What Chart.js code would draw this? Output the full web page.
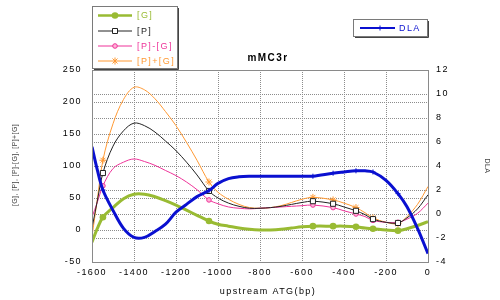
<!DOCTYPE html>
<html lang="en">
<head>
<meta charset="utf-8" />
<title>mMC3r</title>
<style>
html,body{margin:0;padding:0;background:#fff;}
#wrap{width:500px;height:300px;}
</style>
</head>
<body>
<div id="wrap"><canvas id="chart" width="500" height="300"></canvas></div>

<script src="https://cdn.jsdelivr.net/npm/chart.js@4.4.1"></script>
<script>
/* ─────────── values ─────────── */
const positions = [-1600,-1575,-1548,-1500,-1450,-1400,-1350,-1300,-1250,-1200,-1150,-1100,-1043,-1000,-950,-900,-850,-800,-750,-700,-650,-600,-548,-452,-400,-343,-300,-262,-200,-143,-100,-50,0];
const gVals    = [-19,2,20,35,49,56,56,52,46,39,31,23,14,9,6,3,1,0,0,1,3,5,6,6,6,5,3,2,0,-1,2,7,13];
const pVals    = [3,45,89,131,155,167,163,153,139,124,106,86,61,50,42,37,34,34,35,37,40,43,45,41,36,30,24,17,12,11,19,33,55];
const pMinusG  = [20,43,69,96,106,111,107,101,93,85,75,63,47,41,36,34,33,34,35,36,37,38,39,35,30,25,21,15,12,12,17,26,42];
const pPlusG   = [-10,47,109,166,204,223,219,205,185,163,137,109,75,59,48,40,35,34,35,38,43,48,51,47,42,35,27,19,12,10,21,40,68];
const dlaVals  = [5.6,3.7,2.0,0.3,-1.2,-1.95,-1.95,-1.45,-0.85,0.15,0.8,1.45,1.95,2.55,2.95,3.1,3.15,3.15,3.15,3.15,3.15,3.15,3.15,3.4,3.5,3.6,3.6,3.5,2.8,1.7,0.6,-1.2,-3.3];
const markerAt = [-1548,-1043,-548,-452,-343,-262,-143];

const xTicks   = {min:-1600,max:0,step:200};
const leftTicks  = {min:-50,max:250,step:50};
const rightTicks = {min:-4,max:12,step:2};

const titleText = 'mMC3r';
const xTitle = 'upstream ATG(bp)';
const leftTitle = '[G], [P], [P]-[G], [P]+[G]';
const rightTitle = 'DLA';

/* ─────────── styles ─────────── */
const GREEN='#99bb33', BLACK='#222222', PINK='#ee3399', ORANGE='#ff9933', BLUE='#0a10d0';
const FONT='"Liberation Sans", Arial, sans-serif';

const pts = vals => positions.map((x,i)=>({x, y:vals[i]}));
const radii = r => positions.map(x => markerAt.includes(x) ? r : 0);

const series = [
    {label:'DLA', data:pts(dlaVals), yAxisID:'yR', borderColor:BLUE, backgroundColor:BLUE,
     borderWidth:3, pointStyle:'cross', pointRadius:radii(2.5), pointBorderWidth:1},
    {label:'[P]', data:pts(pVals), yAxisID:'yL', borderColor:BLACK, backgroundColor:'#fff',
     borderWidth:1, pointStyle:'rect', pointRadius:radii(3.6), pointBorderWidth:1},
    {label:'[P]-[G]', data:pts(pMinusG), yAxisID:'yL', borderColor:PINK, backgroundColor:'#ffb3d6',
     borderWidth:1, pointStyle:'circle', pointRadius:radii(2.3), pointBorderWidth:1},
    {label:'[P]+[G]', data:pts(pPlusG), yAxisID:'yL', borderColor:ORANGE, backgroundColor:ORANGE,
     borderWidth:1, pointStyle:'star', pointRadius:radii(3.5), pointBorderWidth:1},
    {label:'[G]', data:pts(gVals), yAxisID:'yL', borderColor:GREEN, backgroundColor:GREEN,
     borderWidth:3, pointStyle:'circle', pointRadius:radii(3.3), pointBorderWidth:0}
];

/* ─────────── frame, legends, titles ─────────── */
function legendMarker(ctx, kind, color, fill, x, y){
    ctx.save();
    ctx.strokeStyle=color; ctx.fillStyle=fill; ctx.lineWidth=1;
    ctx.beginPath();
    if (kind==='dot'){ ctx.arc(x,y,3.3,0,Math.PI*2); ctx.fillStyle=color; ctx.fill(); }
    else if (kind==='rect'){ ctx.rect(x-2.5,y-2.5,5,5); ctx.fill(); ctx.stroke(); }
    else if (kind==='circle'){ ctx.arc(x,y,2.3,0,Math.PI*2); ctx.fill(); ctx.stroke(); }
    else if (kind==='star'){
        ctx.moveTo(x-2.5,y-2.5); ctx.lineTo(x+2.5,y+2.5);
        ctx.moveTo(x-2.5,y+2.5); ctx.lineTo(x+2.5,y-2.5);
        ctx.moveTo(x,y-3.5); ctx.lineTo(x,y+3.5); ctx.stroke();
    } else if (kind==='plus'){
        ctx.moveTo(x,y-2.5); ctx.lineTo(x,y+2.5); ctx.stroke();
    }
    ctx.restore();
}

function box(ctx, x, y, w, h){
    ctx.fillStyle='#fff';
    ctx.fillRect(x,y,w,h);
    ctx.strokeStyle='#7a7a7a'; ctx.lineWidth=1;
    ctx.strokeRect(x+0.5,y+0.5,w,h);
    ctx.strokeStyle='#444';
    ctx.beginPath();
    ctx.moveTo(x+w+1.5,y+2); ctx.lineTo(x+w+1.5,y+h+1.5); ctx.lineTo(x+2,y+h+1.5);
    ctx.stroke();
}

const decor = {
    id:'decor',
    beforeDraw(chart){ chart.ctx.letterSpacing='1.4px'; },
    afterDraw(chart){
        const {ctx, chartArea:a} = chart;
        ctx.save();
        ctx.letterSpacing='1.4px';

        // plot frame
        ctx.strokeStyle='#8a8a8a'; ctx.lineWidth=1;
        ctx.strokeRect(Math.round(a.left)+0.5, Math.round(a.top)+0.5,
                       Math.round(a.right-a.left), Math.round(a.bottom-a.top));

        // chart title
        ctx.fillStyle='#000'; ctx.font='bold 10px '+FONT;
        ctx.textAlign='center'; ctx.textBaseline='middle';
        ctx.fillText(titleText, 268, 58);

        // x axis title
        ctx.font='9px '+FONT;
        ctx.fillText(xTitle, 268, 292);

        // y axis titles
        ctx.fillStyle='#444'; ctx.font='7px '+FONT; ctx.letterSpacing='0.4px';
        ctx.save(); ctx.translate(15,165); ctx.rotate(-Math.PI/2);
        ctx.fillText(leftTitle,0,0); ctx.restore();
        ctx.save(); ctx.translate(487,166); ctx.rotate(Math.PI/2);
        ctx.fillText(rightTitle,0,0); ctx.restore();

        // left legend
        ctx.letterSpacing='1.4px';
        box(ctx, 92, 6, 85, 62);
        const rows = [
            {t:'[G]', c:GREEN, f:GREEN, w:2.5, m:'dot', y:15.5},
            {t:'[P]', c:BLACK, f:'#fff', w:1, m:'rect', y:31},
            {t:'[P]-[G]', c:PINK, f:'#ffb3d6', w:1, m:'circle', y:46},
            {t:'[P]+[G]', c:ORANGE, f:ORANGE, w:1, m:'star', y:61}
        ];
        ctx.font='9px '+FONT; ctx.textAlign='left';
        rows.forEach(r=>{
            ctx.strokeStyle=r.c; ctx.lineWidth=r.w;
            ctx.beginPath(); ctx.moveTo(98,r.y); ctx.lineTo(132,r.y); ctx.stroke();
            legendMarker(ctx, r.m, r.c, r.f, 115, r.y);
            ctx.fillStyle=r.c; ctx.fillText(r.t, 137, r.y+0.5);
        });

        // DLA legend
        box(ctx, 353, 19, 74, 17);
        ctx.strokeStyle=BLUE; ctx.lineWidth=2;
        ctx.beginPath(); ctx.moveTo(360,28); ctx.lineTo(395,28); ctx.stroke();
        legendMarker(ctx,'plus',BLUE,BLUE,380,28);
        ctx.fillStyle=BLUE; ctx.fillText('DLA', 399, 28.5);

        ctx.restore();
    }
};

/* ─────────── chart ─────────── */
const tickFont = {family:FONT, size:9};
const gridStyle = {color:'#8c8c8c', lineWidth:1, drawTicks:false};
const dotted = {display:false, dash:[1,1]};
const plain = v => String(v);

new Chart(document.getElementById('chart'), {
    type:'line',
    data:{datasets:series},
    plugins:[decor],
    options:{
        responsive:false,
        animation:false,
        layout:{padding:{top:70}},
        elements:{line:{tension:0.35, fill:false}},
        plugins:{legend:{display:false}, tooltip:{enabled:false}},
        scales:{
            x:{type:'linear', min:xTicks.min, max:xTicks.max,
               ticks:{stepSize:xTicks.step, color:'#000', font:tickFont, padding:5, maxRotation:0, callback:plain},
               grid:gridStyle, border:dotted,
               afterFit(s){ s.height=38; }},
            yL:{position:'left', min:leftTicks.min, max:leftTicks.max,
               ticks:{stepSize:leftTicks.step, color:'#000', font:tickFont, padding:10, callback:plain},
               grid:gridStyle, border:dotted,
               afterFit(s){ s.width=92; }},
            yR:{position:'right', min:rightTicks.min, max:rightTicks.max,
               ticks:{stepSize:rightTicks.step, color:'#000', font:tickFont, padding:8, callback:plain},
               grid:gridStyle, border:dotted,
               afterFit(s){ s.width=72; }}
        }
    }
});
</script>
</body>
</html>
